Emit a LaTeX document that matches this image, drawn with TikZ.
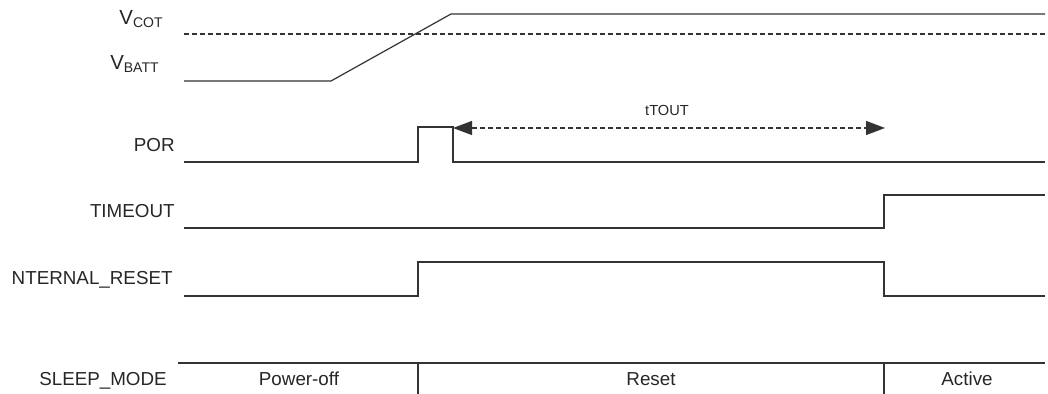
\documentclass[tikz,border=0pt]{standalone}
\usepackage{fontspec}
\setmainfont{Liberation Sans}
\usetikzlibrary{arrows.meta}
\tikzset{
  wave/.style={draw=black!80, line width=0.6pt},
  dashwave/.style={wave, dash pattern=on 2.5pt off 1.5pt},
  siglabel/.style={anchor=base east, inner sep=0pt, text=black!85},
  phase/.style={anchor=base, inner sep=0pt, text=black!85},
  subtxt/.style={font=\fontsize{7.3}{8}\selectfont}
}
\def\lowtxt#1{\raisebox{-1.5pt}{\fontsize{7}{8}\selectfont #1}}

\begin{document}
\begin{tikzpicture}[x=0.5pt, y=-0.5pt, font=\fontsize{9.4}{11}\selectfont]
\useasboundingbox (0,0) rectangle (1048,394);

\node[siglabel, font=\fontsize{10.2}{12}\selectfont] (vcot) at (163,25) {V\lowtxt{COT}};
\node[siglabel, font=\fontsize{10.2}{12}\selectfont] (vbatt) at (159,70) {V\lowtxt{BATT}};
\node[siglabel] (por) at (175,152) {POR};
\node[siglabel] (timeout) at (175,218) {TIMEOUT};
\node[siglabel] (intreset) at (173,285) {NTERNAL\_RESET};
\node[phase] (sleep) at (103,386) {SLEEP\_MODE};
\node[phase] (off) at (299,386) {Power-off};
\node[phase] (reset) at (651,386) {Reset};
\node[phase] (active) at (967,386) {Active};

\draw[wave] (184,81) -- (331,81) -- (451,14) -- (1045,14);
\draw[dashwave] (184,34) -- (1045,34);

\draw[wave] (184,162) -- (418,162) -- (418,127) -- (453,127) -- (453,162) -- (1045,162);
\draw[wave, line width=1.4pt] (973,162) -- (985,162);
\coordinate (tstart) at (453,128);
\coordinate (tend) at (885,128);
\draw[dashwave, {Triangle[length=9.5pt,width=7pt]}-{Triangle[length=9.5pt,width=7pt]}] (tstart) -- (tend);
\node[phase, subtxt] (ttout) at (667,116) {tTOUT};

\draw[wave] (184,228) -- (884,228) -- (884,195) -- (1045,195);

\draw[wave] (184,296) -- (418,296) -- (418,262) -- (884,262) -- (884,296) -- (1045,296);
\draw[wave, line width=1pt] (1027,296) -- (1031,296);

\draw[wave] (178,363) -- (1045,363);
\draw[wave] (418,363) -- (418,394);
\draw[wave] (884,363) -- (884,394);
\end{tikzpicture}
\end{document}
